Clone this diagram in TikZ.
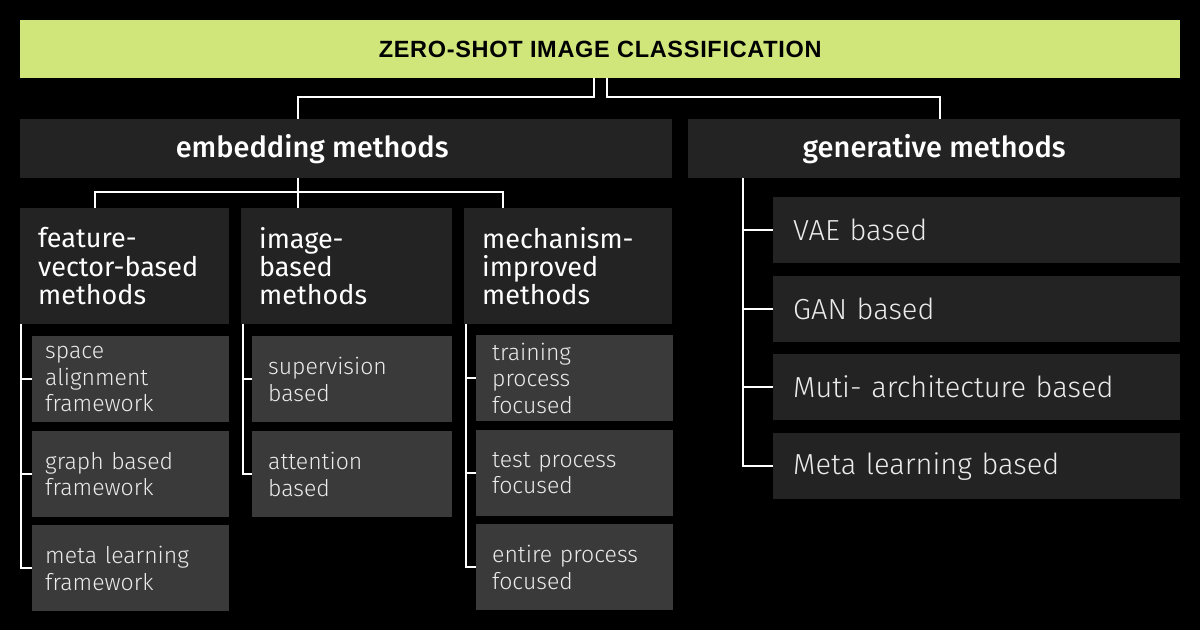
\documentclass[tikz,border=0pt]{standalone}
\usepackage{fontspec}
\setmainfont{Fira Sans}
\newfontfamily\lightfont{Fira Sans Light}
\newfontfamily\mediumfont{Fira Sans Medium}
\newfontfamily\heavyfont{Liberation Sans Bold}[LetterSpace=3]
\definecolor{lime}{RGB}{208,230,122}
\definecolor{panel}{RGB}{35,35,35}
\definecolor{leaf}{RGB}{58,58,58}

\begin{document}
\begin{tikzpicture}[
  x=1pt,y=-1pt,
  link/.style={draw=white,line width=2pt},
  titlebar/.style={fill=lime,text=black,inner sep=0pt,anchor=north west,
                   font=\heavyfont\fontsize{23.5}{27}\selectfont},
  headbox/.style={fill=panel,text=white,inner sep=0pt,anchor=north west,
                  minimum height=59pt,font=\mediumfont\fontsize{29}{34}\selectfont},
  groupbox/.style={fill=panel,text=white,inner ysep=0pt,inner xsep=18pt,
                   anchor=north west,align=left,minimum height=116pt,
                   font=\fontsize{27}{28.3}\selectfont},
  leafbox/.style={fill=leaf,text=white!92!black,inner ysep=0pt,anchor=north west,
                  align=left,minimum height=86pt,
                  font=\lightfont\fontsize{23}{26.7}\selectfont},
  genleaf/.style={fill=panel,text=white!92!black,inner ysep=0pt,inner xsep=20pt,
                  anchor=north west,align=left,minimum width=407pt,
                  text width=367pt,minimum height=66pt,
                  font=\lightfont\fontsize{29}{33}\selectfont},
]
\fill[black] (0,0) rectangle (1200,630);
\useasboundingbox (0,0) rectangle (1200,630);

% ---- top level ----
\node[titlebar,minimum width=1160pt,minimum height=58pt] (title) at (20,20)
  {\raisebox{-2pt}{ZERO-SHOT IMAGE CLASSIFICATION}};
\node[headbox,minimum width=652pt] (emb) at (20,119)
  {embedding methods\hspace*{68pt}};
\node[headbox,minimum width=492pt] (gen) at (688,119) {generative methods};

\draw[link] ([xshift=-6pt]title.south) -- ++(0,19) -| ([xshift=278pt]emb.north west);
\draw[link] ([xshift=7pt]title.south) -- ++(0,19) -| ([xshift=252pt]gen.north west);

% ---- embedding groups ----
\node[groupbox,minimum width=209pt,text width=173pt] (fv) at (20,208)
  {feature-\\vector-based\\methods};
\node[groupbox,minimum width=211pt,text width=175pt] (img) at (241,208)
  {image-\\based\\methods};
\node[groupbox,minimum width=208pt,text width=172pt] (mech) at (464,208)
  {mechanism-\\improved\\methods};

\draw[link] ([xshift=278pt]emb.south west) -- ([xshift=57pt]img.north west);
\draw[link] ([xshift=75pt]fv.north west) |- ([xshift=39pt,yshift=16pt]mech.north west)
  -- ([xshift=39pt]mech.north west);

% ---- leaves under each group ----
\foreach \n/\y/\t in {fva/336/{space\\alignment\\framework},
                      fvb/431/{graph based\\framework},
                      fvc/525/{meta learning\\framework}}{
  \node[leafbox,inner xsep=13pt,minimum width=197pt,text width=171pt] (\n) at (32,\y) {\t};
}
\foreach \n/\y/\t in {imga/336/{supervision\\based},
                      imgb/431/{attention\\based}}{
  \node[leafbox,inner xsep=16pt,minimum width=200pt,text width=168pt] (\n) at (252,\y) {\t};
}
\foreach \n/\y/\t in {mea/335/{training\\process\\focused},
                      meb/430/{test process\\focused},
                      mec/524/{entire process\\focused}}{
  \node[leafbox,inner xsep=16pt,minimum width=197pt,text width=165pt] (\n) at (476,\y) {\t};
}

% ---- generative leaves ----
\foreach \n/\y/\t in {gena/197/{VAE based},genb/276/{GAN based},
                      genc/354/{Muti- architecture based},gend/433/{Meta learning based}}{
  \node[genleaf] (\n) at (773,\y) {\t};
}

% ---- brackets ----
\coordinate (fvbar) at ([xshift=1pt]fv.south west);
\coordinate (imgbar) at ([xshift=2pt]img.south west);
\coordinate (mebar) at ([xshift=2pt]mech.south west);
\coordinate (genbar) at ([xshift=55pt]gen.south west);

\draw[link] (fvbar) |- (fvc.west);
\foreach \n in {fva,fvb}{\draw[link] (fvbar |- \n.west) -- (\n.west);}
\draw[link] (imgbar) |- (imgb.west);
\draw[link] (imgbar |- imga.west) -- (imga.west);
\draw[link] (mebar) |- (mec.west);
\foreach \n in {mea,meb}{\draw[link] (mebar |- \n.west) -- (\n.west);}
\draw[link] (genbar) |- (gend.west);
\foreach \n in {gena,genb,genc}{\draw[link] (genbar |- \n.west) -- (\n.west);}

\end{tikzpicture}
\end{document}
